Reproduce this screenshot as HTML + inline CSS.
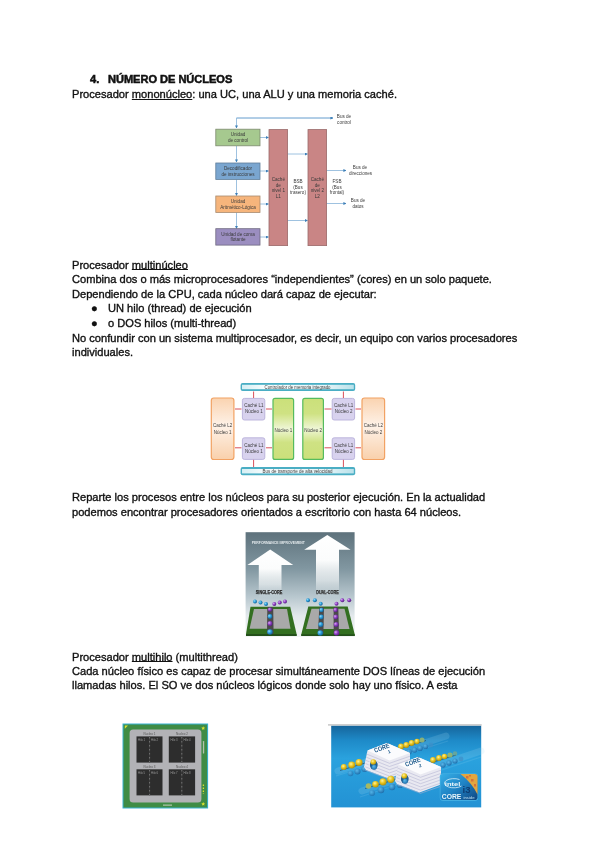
<!DOCTYPE html>
<html><head><meta charset="utf-8">
<style>
html,body{margin:0;padding:0;background:#fff;}
body{width:600px;height:848px;position:relative;overflow:hidden;font-family:"Liberation Sans",sans-serif;font-size:11.1px;color:#111;}
.l{position:absolute;left:71.6px;white-space:pre;line-height:14px;-webkit-text-stroke:0.35px #111;will-change:transform;filter:blur(0.2px);}
.u{text-decoration:underline;text-underline-offset:1.7px;}
.h{font-weight:bold;-webkit-text-stroke:0.5px #111;}
svg{position:absolute;left:0;top:0;filter:blur(0.4px);}
svg text{font-family:"Liberation Sans",sans-serif;}
</style></head><body>
<div class="l h" style="top:71.5px;left:89.8px">4.</div>
<div class="l h" style="top:71.5px;left:108.1px;letter-spacing:-0.05px">NÚMERO DE NÚCLEOS</div>
<div class="l" style="top:86.5px">Procesador <span class="u" style="text-underline-offset:1.2px">mononúcleo</span>: una UC, una ALU y una memoria caché.</div>

<div class="l" style="top:257.5px">Procesador <span class="u" style="text-underline-offset:-0.3px">multinúcleo</span></div>
<div class="l" style="top:271.5px">Combina dos o más microprocesadores “independientes” (cores) en un solo paquete.</div>
<div class="l" style="top:286.5px">Dependiendo de la CPU, cada núcleo dará capaz de ejecutar:</div>
<div class="l" style="top:300.5px;left:90.6px">●</div>
<div class="l" style="top:300.5px;left:108.3px">UN hilo (thread) de ejecución</div>
<div class="l" style="top:315.5px;left:90.6px">●</div>
<div class="l" style="top:315.5px;left:108.3px">o DOS hilos (multi-thread)</div>
<div class="l" style="top:330.5px">No confundir con un sistema multiprocesador, es decir, un equipo con varios procesadores</div>
<div class="l" style="top:344.5px">individuales.</div>

<div class="l" style="top:489.5px">Reparte los procesos entre los núcleos para su posterior ejecución. En la actualidad</div>
<div class="l" style="top:504.5px">podemos encontrar procesadores orientados a escritorio con hasta 64 núcleos.</div>

<div class="l" style="top:649.5px">Procesador <span class="u" style="text-underline-offset:-0.3px">multihilo</span> (multithread)</div>
<div class="l" style="top:663.5px">Cada núcleo físico es capaz de procesar simultáneamente DOS líneas de ejecución</div>
<div class="l" style="top:677.5px">llamadas hilos. El SO ve dos núcleos lógicos donde solo hay uno físico. A esta</div>

<svg width="600" height="848" viewBox="0 0 600 848" font-family="Liberation Sans" >
<defs>
  <marker id="ab" markerWidth="3" markerHeight="3" refX="2.6" refY="1.5" orient="auto" markerUnits="userSpaceOnUse"><path d="M0,0 L3,1.5 L0,3 z" fill="#3d7fb8"/></marker>
  <marker id="ar" markerWidth="2.4" markerHeight="2.4" refX="2.2" refY="1.2" orient="auto-start-reverse" markerUnits="userSpaceOnUse"><path d="M0,0 L2.4,1.2 L0,2.4 z" fill="#e06060"/></marker>
</defs>
<!-- ===== Diagram 1 ===== -->
<g stroke="#86b2d8" stroke-width="0.8" fill="none">
  <path d="M333,118 H236.5 V128" marker-end="url(#ab)"/>
  <path d="M236.5,118 H333" marker-end="url(#ab)"/>
  <path d="M236.5,146 V162" marker-end="url(#ab)"/>
  <path d="M236.5,179.5 V195.5" marker-end="url(#ab)"/>
  <path d="M236.5,212.5 V228.5" marker-end="url(#ab)"/>
  <path d="M260,137.5 H268.5" marker-end="url(#ab)"/>
  <path d="M260,171 H268.5" marker-end="url(#ab)"/>
  <path d="M260,204 H268.5" marker-end="url(#ab)"/>
  <path d="M260,237 H268.5" marker-end="url(#ab)"/>
  <path d="M287.5,154 H307.5" marker-end="url(#ab)"/>
  <path d="M287.5,220.5 H307.5" marker-end="url(#ab)"/>
  <path d="M326.5,170.5 H346" marker-end="url(#ab)"/>
  <path d="M326.5,203.5 H346" marker-end="url(#ab)"/>
</g>
<g stroke-width="0.8">
  <rect x="215.8" y="129.2" width="44.2" height="16.6" fill="#a6c98f" stroke="#7d8a6e"/>
  <rect x="215.8" y="163" width="44.2" height="16.4" fill="#7aa6d0" stroke="#5f7d99"/>
  <rect x="215.8" y="196" width="44.2" height="16.4" fill="#f6b57c" stroke="#a88a6e"/>
  <rect x="215.8" y="228.7" width="44.2" height="16.4" fill="#9b8ec0" stroke="#6f6a80"/>
  <rect x="269" y="129.6" width="18.6" height="116" fill="#c98585" stroke="#9b6a6a"/>
  <rect x="308" y="129.6" width="18.6" height="116" fill="#c98585" stroke="#9b6a6a"/>
</g>
<g font-size="4.6" fill="#3a3a3a" text-anchor="middle">
  <text x="238" y="136">Unidad</text><text x="238" y="141.5">de control</text>
  <text x="238" y="170">Decodificador</text><text x="238" y="175.5">de instrucciones</text>
  <text x="238" y="203">Unidad</text><text x="238" y="208.5">Aritmético-Lógica</text>
  <text x="238" y="235.5">Unidad de coma</text><text x="238" y="241">flotante</text>
  <text x="278.3" y="181">Caché</text><text x="278.3" y="186.5">de</text><text x="278.3" y="192">nivel 1</text><text x="278.3" y="197.5">L1</text>
  <text x="317.3" y="181">Caché</text><text x="317.3" y="186.5">de</text><text x="317.3" y="192">nivel 2</text><text x="317.3" y="197.5">L2</text>
  <text x="298" y="183">BSB</text><text x="298" y="188.5">(Bus</text><text x="298" y="194">trasero)</text>
  <text x="337" y="183">FSB</text><text x="337" y="188.5">(Bus</text><text x="337" y="194">frontal)</text>
  <text x="344" y="118">Bus de</text><text x="344" y="123.5">control</text>
  <text x="360" y="169">Bus de</text><text x="360.5" y="174.5">direcciones</text>
  <text x="358" y="202">Bus de</text><text x="358" y="207.5">datos</text>
</g>

<!-- ===== Diagram 2 ===== -->
<defs>
  <linearGradient id="og" x1="0" y1="0" x2="0" y2="1">
    <stop offset="0" stop-color="#fad3b0"/><stop offset="0.45" stop-color="#fef2e8"/><stop offset="1" stop-color="#f9d0ab"/>
  </linearGradient>
  <linearGradient id="gg" x1="0" y1="0" x2="0" y2="1">
    <stop offset="0" stop-color="#cbe07a"/><stop offset="0.25" stop-color="#cfe283"/><stop offset="0.5" stop-color="#eff6d6"/><stop offset="0.72" stop-color="#cfe283"/><stop offset="1" stop-color="#cbe07a"/>
  </linearGradient>
  <linearGradient id="tg" x1="0" y1="0" x2="1" y2="0">
    <stop offset="0" stop-color="#d6eff4"/><stop offset="0.2" stop-color="#f6fcfd"/><stop offset="0.75" stop-color="#e6f5f8"/><stop offset="1" stop-color="#b9e1ea"/>
  </linearGradient>
</defs>
<g>
  <rect x="240.6" y="382.9" width="114.6" height="8.2" rx="2" fill="#4aaec4"/>
  <rect x="242" y="384.8" width="111.8" height="4.4" fill="url(#tg)"/>
  <rect x="240.6" y="467.1" width="114.6" height="8.2" rx="2" fill="#4aaec4"/>
  <rect x="242" y="469" width="111.8" height="4.4" fill="url(#tg)"/>
  <rect x="211.3" y="398" width="22.6" height="61.5" rx="2.5" fill="url(#og)" stroke="#f2a263" stroke-width="1.2"/>
  <rect x="362" y="398" width="22.6" height="61.5" rx="2.5" fill="url(#og)" stroke="#f2a263" stroke-width="1.2"/>
  <rect x="242.4" y="398.4" width="22.4" height="21.6" rx="2" fill="#d8d2ee" stroke="#b8b0da" stroke-width="0.9"/>
  <rect x="242.4" y="437.8" width="22.4" height="21.6" rx="2" fill="#d8d2ee" stroke="#b8b0da" stroke-width="0.9"/>
  <rect x="332.2" y="398.4" width="22.4" height="21.6" rx="2" fill="#d8d2ee" stroke="#b8b0da" stroke-width="0.9"/>
  <rect x="332.2" y="437.8" width="22.4" height="21.6" rx="2" fill="#d8d2ee" stroke="#b8b0da" stroke-width="0.9"/>
  <rect x="273" y="398.4" width="20.6" height="61" rx="2" fill="url(#gg)" stroke="#55bb5e" stroke-width="1.2"/>
  <rect x="302.8" y="398.4" width="20.6" height="61" rx="2" fill="url(#gg)" stroke="#55bb5e" stroke-width="1.2"/>
</g>
<g stroke="#d9505a" stroke-width="1" fill="none">
  <path d="M253.6,391.5 V398"/><path d="M253.6,459.8 V467"/>
  <path d="M343.4,391.5 V398"/><path d="M343.4,459.8 V467"/>
  <path d="M235,409 H241.5"/><path d="M235,447.8 H241.5"/>
  <path d="M266,409 H272"/><path d="M266,447.8 H272"/>
  <path d="M324.5,409 H331.5"/><path d="M324.5,447.8 H331.5"/>
  <path d="M355.5,409 H361"/><path d="M355.5,447.8 H361"/>
</g>
<g font-size="4.5" fill="#3c3c3c" text-anchor="middle">
  <text x="297.5" y="388.8" textLength="66" lengthAdjust="spacingAndGlyphs">Controlador de memoria integrado</text>
  <text x="297.5" y="473" textLength="70" lengthAdjust="spacingAndGlyphs">Bus de transporte de alta velocidad</text>
  <text x="222.6" y="427.3">Caché L2</text><text x="222.6" y="433.5">Núcleo 1</text>
  <text x="373.3" y="427.3">Caché L2</text><text x="373.3" y="433.5">Núcleo 2</text>
  <text x="253.8" y="407.3">Caché L1</text><text x="253.8" y="413.2">Núcleo 1</text>
  <text x="253.8" y="446.8">Caché L1</text><text x="253.8" y="452.7">Núcleo 1</text>
  <text x="343.6" y="407.3">Caché L1</text><text x="343.6" y="413.2">Núcleo 2</text>
  <text x="343.6" y="446.8">Caché L1</text><text x="343.6" y="452.7">Núcleo 2</text>
  <text x="283.3" y="431.5">Núcleo 1</text>
  <text x="313.1" y="431.5">Núcleo 2</text>
</g>

<!-- ===== Diagram 3 ===== -->
<defs>
  <linearGradient id="bg3" x1="0" y1="0" x2="0" y2="1">
    <stop offset="0" stop-color="#5e727c"/><stop offset="0.35" stop-color="#8197a1"/><stop offset="0.62" stop-color="#b9c8cf"/><stop offset="0.8" stop-color="#e3e9ec"/><stop offset="1" stop-color="#f2f4f5"/>
  </linearGradient>
  <linearGradient id="arw" x1="0" y1="0" x2="0" y2="1">
    <stop offset="0" stop-color="#ffffff"/><stop offset="0.4" stop-color="#fbfcfc"/><stop offset="0.72" stop-color="#e9eef0" stop-opacity="0.75"/><stop offset="1" stop-color="#e4eaec" stop-opacity="0"/>
  </linearGradient>
  <radialGradient id="bb" cx="0.35" cy="0.35" r="0.7"><stop offset="0" stop-color="#8fd8f8"/><stop offset="0.5" stop-color="#2a9ad6"/><stop offset="1" stop-color="#155c8f"/></radialGradient>
  <radialGradient id="pb" cx="0.35" cy="0.35" r="0.7"><stop offset="0" stop-color="#d9a8f0"/><stop offset="0.5" stop-color="#8a3cc0"/><stop offset="1" stop-color="#53207a"/></radialGradient>
</defs>
<rect x="245.6" y="532.2" width="109" height="104.8" fill="url(#bg3)"/>
<text x="251.8" y="543.9" font-size="3.5" fill="#e4eaed" font-weight="bold" textLength="53" lengthAdjust="spacingAndGlyphs">PERFORMANCE IMPROVEMENT</text>
<path d="M270.2,549.5 L293.2,565 H281.5 V598 H258.8 V565 H247.4 Z" fill="url(#arw)"/>
<path d="M327.3,535 L350.6,549.7 H339 V598 H316 V549.7 H304.2 Z" fill="url(#arw)"/>
<text x="255.8" y="594.4" font-size="4.8" fill="#2b2b2b" stroke="#2b2b2b" stroke-width="0.25" font-weight="bold" textLength="26.5" lengthAdjust="spacingAndGlyphs">SINGLE-CORE</text>
<text x="316.2" y="594.4" font-size="4.8" fill="#2b2b2b" stroke="#2b2b2b" stroke-width="0.25" font-weight="bold" textLength="22.5" lengthAdjust="spacingAndGlyphs">DUAL-CORE</text>
<!-- chip 1 -->
<path d="M250.5,606.8 H290.2 L296.6,634 V636 H246 V634 Z" fill="#336f20"/>
<path d="M246,634 H296.6 V636 H246 Z" fill="#24501a"/>
<path d="M254,609 H287 L290.5,628.8 H249.6 Z" fill="#a9a9a9"/>
<path d="M267.3,607 H273.2 L273.6,634 H267 Z" fill="#4a4a4a"/>
<!-- chip 2 -->
<path d="M308.3,606.5 H347.7 L354.7,634.3 V636 H301.3 V634.3 Z" fill="#336f20"/>
<path d="M301.3,634.3 H354.7 V636 H301.3 Z" fill="#24501a"/>
<path d="M311.5,608.8 H344.5 L349.5,629 H306 Z" fill="#a9a9a9"/>
<path d="M319.3,607 H324 L323.4,634 H318 Z" fill="#4a4a4a"/>
<path d="M333.6,607 H338.3 L339,634 H333.7 Z" fill="#4a4a4a"/>
<g>
  <circle cx="255" cy="601.5" r="2" fill="url(#bb)"/><circle cx="260.5" cy="602.6" r="2" fill="url(#bb)"/><circle cx="266" cy="604" r="2" fill="url(#bb)"/>
  <circle cx="274.3" cy="604" r="2" fill="url(#pb)"/><circle cx="279.7" cy="602.6" r="2" fill="url(#pb)"/><circle cx="285" cy="601.5" r="2" fill="url(#pb)"/>
  <circle cx="270" cy="609.6" r="2.2" fill="url(#pb)"/><circle cx="270" cy="616.5" r="2.4" fill="url(#bb)"/><circle cx="270" cy="623.6" r="2.5" fill="url(#pb)"/><circle cx="270" cy="632" r="2.8" fill="url(#bb)"/>
  <circle cx="308" cy="600.2" r="2" fill="url(#bb)"/><circle cx="314.9" cy="600.2" r="2" fill="url(#bb)"/><circle cx="320.7" cy="603.8" r="2" fill="url(#bb)"/>
  <circle cx="336.5" cy="603.8" r="2" fill="url(#pb)"/><circle cx="342.3" cy="600.2" r="2" fill="url(#pb)"/><circle cx="349.2" cy="600.2" r="2" fill="url(#pb)"/>
  <circle cx="321.5" cy="610" r="2.2" fill="url(#bb)"/><circle cx="321.3" cy="617" r="2.4" fill="url(#bb)"/><circle cx="320.8" cy="624.5" r="2.5" fill="url(#bb)"/><circle cx="320.3" cy="633" r="2.8" fill="url(#bb)"/>
  <circle cx="335.6" cy="610" r="2.2" fill="url(#pb)"/><circle cx="335.8" cy="617" r="2.4" fill="url(#pb)"/><circle cx="336.2" cy="624.5" r="2.5" fill="url(#pb)"/><circle cx="336.6" cy="633" r="2.8" fill="url(#pb)"/>
</g>

<!-- ===== Diagram 4 ===== -->
<rect x="122.5" y="723.5" width="85.6" height="85" fill="#38b2d2"/>
<rect x="123.5" y="724.5" width="83.6" height="83" fill="#3f8c45"/>
<rect x="129.6" y="729.6" width="71.8" height="72.9" rx="3.5" fill="#b2b2b6"/>
<g fill="#2d2d2d">
  <rect x="136.5" y="736.4" width="26" height="26.2"/><rect x="168.8" y="736.4" width="26.3" height="26.2"/>
  <rect x="136.5" y="769.3" width="26" height="26.1"/><rect x="168.8" y="769.3" width="26.3" height="26.1"/>
</g>
<path d="M149.6,736.4 V762.6 M181.8,736.4 V762.6 M149.6,769.3 V795.4 M181.8,769.3 V795.4" stroke="#4a4a4a" stroke-width="0.6"/>
<g stroke="#9a9a9a" stroke-width="0.6" stroke-dasharray="1.5,2.5">
  <path d="M149.6,737 V762"/><path d="M181.8,737 V762"/><path d="M149.6,770 V795"/><path d="M181.8,770 V795"/>
</g>
<g font-size="3" fill="#555" text-anchor="middle">
  <text x="149.5" y="734.5">Nucleo 1</text><text x="182" y="734.5">Nucleo 2</text>
  <text x="149.5" y="767.5">Nucleo 3</text><text x="182" y="767.5">Nucleo 4</text>
</g>
<g font-size="2.8" fill="#9c9c9c">
  <text x="138" y="741">Hilo 1</text><text x="151" y="741">Hilo 2</text><text x="170.5" y="741">Hilo 3</text><text x="183.5" y="741">Hilo 4</text>
  <text x="138" y="774">Hilo 5</text><text x="151" y="774">Hilo 6</text><text x="170.5" y="774">Hilo 7</text><text x="183.5" y="774">Hilo 8</text>
</g>
<path d="M124.8,725.5 h3.2 l-3.2,3.2 z" fill="#d8e030"/>
<polygon points="203.20,726.20 203.79,727.39 205.10,727.58 204.15,728.51 204.38,729.82 203.20,729.20 202.02,729.82 202.25,728.51 201.30,727.58 202.61,727.39" fill="#d8e030"/><polygon points="203.20,802.00 203.79,803.19 205.10,803.38 204.15,804.31 204.38,805.62 203.20,805.00 202.02,805.62 202.25,804.31 201.30,803.38 202.61,803.19" fill="#d8e030"/>
<path d="M203.4,784.5 v9.5" stroke="#d8e030" stroke-width="1.3" stroke-dasharray="1.6,1.4"/>
<rect x="202.9" y="741" width="1.3" height="12.5" rx="0.6" fill="#b4c0ac"/>
<rect x="163" y="804.6" width="9" height="1" fill="#c8d0c0"/>
<!-- ===== Diagram 5 ===== -->
<defs>
  <linearGradient id="bg5" x1="0" y1="0" x2="0" y2="1">
    <stop offset="0" stop-color="#16659c"/><stop offset="0.18" stop-color="#1e8ac8"/><stop offset="0.4" stop-color="#2aa2de"/><stop offset="1" stop-color="#2392d4"/>
  </linearGradient>
  <linearGradient id="blk" x1="0" y1="0" x2="0" y2="1">
    <stop offset="0" stop-color="#ffffff"/><stop offset="1" stop-color="#c9ccd8"/>
  </linearGradient>
  <linearGradient id="badge" x1="0" y1="0" x2="1" y2="1">
    <stop offset="0" stop-color="#36aee6"/><stop offset="0.5" stop-color="#1f82c4"/><stop offset="1" stop-color="#0f4580"/>
  </linearGradient>
  <radialGradient id="yb" cx="0.4" cy="0.35" r="0.7"><stop offset="0" stop-color="#fff29a"/><stop offset="0.5" stop-color="#e8c21a"/><stop offset="1" stop-color="#a88a10"/></radialGradient>
  <radialGradient id="lb" cx="0.4" cy="0.35" r="0.7"><stop offset="0" stop-color="#5ab8ea"/><stop offset="1" stop-color="#1a6aa8"/></radialGradient>
</defs>
<rect x="328" y="724.2" width="153.7" height="1.4" fill="#c4c4c4"/>
<rect x="331.2" y="725.8" width="150" height="81.6" fill="url(#bg5)"/>
<g opacity="0.18" stroke="#a8dcf2" stroke-width="7" fill="none" stroke-linecap="round">
  <path d="M338,771 L446,736"/><path d="M362,791 L481,751"/>
</g>
<g opacity="0.12" stroke="#bfe8f8" stroke-width="1.2" fill="none">
  <path d="M336,776 L448,741"/><path d="M360,797 L481,757"/>
</g>
<!-- upper row -->
<g stroke="#1d3f58" stroke-width="0.9" opacity="0.7"><path d="M340,770.5 L372,761"/><path d="M365,788.5 L404,777"/><path d="M398,749 L426,740.5"/><path d="M430,763 L456,755"/></g>
<g>
  <circle cx="350.5" cy="773.5" r="2.8" fill="url(#lb)" opacity="0.8"/><circle cx="357.5" cy="771.5" r="3" fill="url(#lb)"/><circle cx="364.5" cy="769" r="3" fill="url(#lb)"/><circle cx="372" cy="766" r="3" fill="url(#lb)"/>
  <circle cx="409" cy="751.8" r="2.8" fill="url(#lb)"/><circle cx="414.5" cy="750" r="2.8" fill="url(#lb)"/><circle cx="420" cy="748.2" r="2.8" fill="url(#lb)"/><circle cx="425.5" cy="746.5" r="2.6" fill="url(#lb)"/><circle cx="431" cy="745" r="2.4" fill="#3d8fc8" opacity="0.7"/>
  <circle cx="343.8" cy="767" r="3" fill="url(#yb)"/><circle cx="351.7" cy="765" r="3.4" fill="url(#yb)"/><circle cx="359" cy="762.5" r="3.5" fill="url(#yb)"/>
  <circle cx="401" cy="746.5" r="2.9" fill="url(#yb)"/><circle cx="406.3" cy="745" r="2.9" fill="url(#yb)"/><circle cx="411.6" cy="743" r="2.9" fill="url(#yb)"/><circle cx="417" cy="741.5" r="2.7" fill="url(#yb)"/><circle cx="422" cy="740" r="2.5" fill="#9fb86a" opacity="0.85"/>
</g>
<!-- block 1 -->
<polygon points="364.0,767.0 367.5,750.5 387.0,743.0 410.0,753.0 410.0,770.5 388.5,778.5 366.0,770.0" fill="#e9e9f1"/>
<polygon points="367.5,750.5 387.0,743.0 410.0,753.0 389.5,760.5" fill="#fbfbfd"/>
<g stroke="#b2b2d2" stroke-width="0.55" fill="none"><polyline points="366.5,754.0 389.5,763.3 410.0,756.2"/><polyline points="366.2,757.2 389.5,766.5 410.0,759.4"/><polyline points="365.9,760.4 389.5,769.7 410.0,762.6"/><polyline points="365.6,763.6 389.5,772.9 410.0,765.8"/><polyline points="365.3,766.8 389.5,776.1 410.0,769.0"/><polyline points="365.0,770.0 389.5,779.3 410.0,772.2"/></g>
<ellipse cx="373.5" cy="764.5" rx="4.8" ry="5.4" fill="#e9e9f1"/>
<ellipse cx="373.8" cy="765" rx="3.9" ry="4.6" fill="#1f5f92"/>
<circle cx="373.3" cy="762" r="2.8" fill="url(#yb)"/><circle cx="374.2" cy="767.3" r="2.5" fill="url(#lb)"/>
<text x="375" y="752.8" font-size="6.4" font-weight="bold" fill="#1d5a8c" textLength="16" lengthAdjust="spacingAndGlyphs" transform="rotate(-20 375 752.8)">CORE</text>
<text x="388.5" y="753.5" font-size="4.5" font-weight="bold" fill="#1d5a8c" transform="rotate(-20 388.5 753.5)">1</text>
<!-- lower row -->
<g>
  <circle cx="372" cy="793" r="3" fill="url(#lb)" opacity="0.8"/><circle cx="381" cy="790" r="3.3" fill="url(#lb)"/><circle cx="400" cy="785" r="3.1" fill="url(#lb)"/><circle cx="392" cy="787" r="3.3" fill="url(#lb)"/>
  <circle cx="368.5" cy="786" r="2.8" fill="#a8b860"/><circle cx="375.5" cy="784.2" r="3.3" fill="url(#yb)"/><circle cx="383" cy="781.8" r="3.6" fill="url(#yb)"/><circle cx="390.8" cy="779.3" r="3.6" fill="url(#yb)"/>
  <circle cx="443" cy="765" r="2.7" fill="url(#lb)"/><circle cx="449" cy="763" r="2.7" fill="url(#lb)"/><circle cx="455" cy="761" r="2.6" fill="url(#lb)"/><circle cx="461" cy="759" r="2.4" fill="#3d8fc8" opacity="0.7"/>
  <circle cx="433" cy="760" r="2.9" fill="url(#yb)"/><circle cx="439" cy="758" r="2.9" fill="url(#yb)"/><circle cx="444.5" cy="756.5" r="2.8" fill="url(#yb)"/><circle cx="450" cy="755" r="2.6" fill="#9fb86a" opacity="0.85"/><circle cx="455" cy="753.5" r="2.3" fill="#8fae7a" opacity="0.6"/>
</g>
<!-- block 2 -->
<polygon points="395.0,781.0 398.5,764.5 418.0,757.0 441.0,767.0 441.0,784.5 419.5,792.5 397.0,784.0" fill="#e9e9f1"/>
<polygon points="398.5,764.5 418.0,757.0 441.0,767.0 420.5,774.5" fill="#fbfbfd"/>
<g stroke="#b2b2d2" stroke-width="0.55" fill="none"><polyline points="397.5,768.0 420.5,777.3 441.0,770.2"/><polyline points="397.2,771.2 420.5,780.5 441.0,773.4"/><polyline points="396.9,774.4 420.5,783.7 441.0,776.6"/><polyline points="396.6,777.6 420.5,786.9 441.0,779.8"/><polyline points="396.3,780.8 420.5,790.1 441.0,783.0"/><polyline points="396.0,784.0 420.5,793.3 441.0,786.2"/></g>
<ellipse cx="404.5" cy="778.5" rx="4.8" ry="5.4" fill="#e9e9f1"/>
<ellipse cx="404.8" cy="779" rx="3.9" ry="4.6" fill="#1f5f92"/>
<circle cx="404.3" cy="776" r="2.8" fill="url(#yb)"/><circle cx="405.2" cy="781.3" r="2.5" fill="url(#lb)"/>
<text x="406" y="766.8" font-size="6.4" font-weight="bold" fill="#1d5a8c" textLength="16" lengthAdjust="spacingAndGlyphs" transform="rotate(-20 406 766.8)">CORE</text>
<text x="419.5" y="767.5" font-size="4.5" font-weight="bold" fill="#1d5a8c" transform="rotate(-20 419.5 767.5)">2</text>
<!-- badge -->
<rect x="439.8" y="773.4" width="38.3" height="27.3" rx="3.2" fill="#4cb6e6"/>
<rect x="440.4" y="774" width="37.1" height="26.1" rx="2.8" fill="url(#badge)"/>
<path d="M460.5,774 H474.7 Q477.5,774 477.5,777 V794.5 Q472,783 460.5,774 Z" fill="#e2a640"/>
<g fill="#d2603a" opacity="0.75"><rect x="466" y="776" width="2.5" height="2.5"/><rect x="471" y="779" width="2.5" height="2.5"/><rect x="474" y="784" width="2" height="2.5"/><rect x="469" y="775" width="2" height="1.5"/></g>
<path d="M459.5,779.5 A9.5,4.6 0 1 0 461.5,786" fill="none" stroke="#d8eef8" stroke-width="0.8"/>
<text x="444.8" y="786" font-size="5.8" fill="#eef8fc" font-weight="bold" textLength="15.5" lengthAdjust="spacingAndGlyphs">intel</text>
<text x="441.8" y="798.6" font-size="7.6" fill="#e8f4fa" font-weight="bold" textLength="19.6" lengthAdjust="spacingAndGlyphs">CORE</text>
<text x="462.5" y="792.5" font-size="9" fill="#0f3d72" font-weight="bold" textLength="8" lengthAdjust="spacingAndGlyphs">i3</text>
<text x="463.5" y="799.3" font-size="2.8" fill="#bfe0f2" textLength="11" lengthAdjust="spacingAndGlyphs">inside</text>
</svg>
</body></html>
